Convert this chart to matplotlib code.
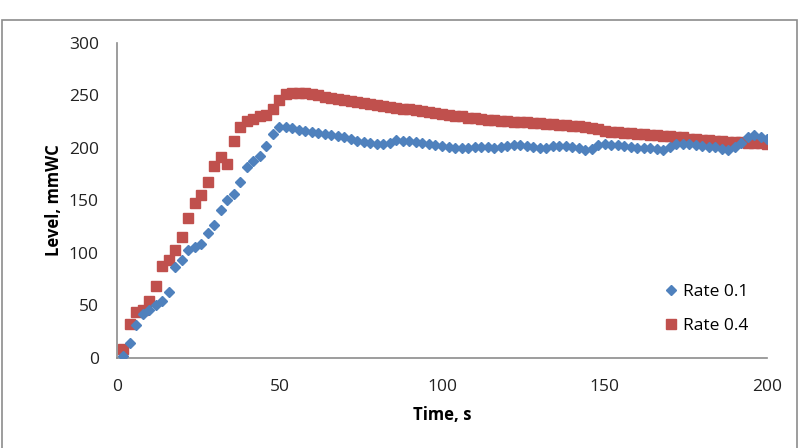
import numpy as np
import matplotlib
matplotlib.use('Agg')
import matplotlib.pyplot as plt
from matplotlib.patches import Rectangle

# time, s (one sample every 2 s)
time_s = np.arange(2, 201, 2)

rate_01 = [2, 14, 31, 42, 46, 50, 54, 63, 87, 93,
           103, 106, 109, 119, 127, 141, 150, 156, 168, 182,
           188, 192, 202, 213, 220, 220, 219, 217, 216, 215,
           214, 213, 212, 211, 210, 209, 207, 206, 205, 204,
           204, 205, 208, 207, 207, 206, 205, 204, 203, 202,
           201, 200, 200, 200, 201, 201, 201, 200, 201, 202,
           203, 203, 202, 201, 200, 200, 202, 202, 202, 201,
           200, 198, 199, 203, 204, 203, 203, 202, 201, 200,
           200, 200, 199, 198, 201, 204, 204, 204, 203, 202,
           201, 201, 199, 198, 201, 205, 210, 212, 210, 209]

rate_04 = [9, 32, 44, 46, 54, 69, 88, 93, 103, 115,
           133, 148, 155, 168, 183, 191, 185, 207, 220, 226,
           228, 230, 231, 237, 246, 251, 252, 252, 252, 251,
           250, 249, 248, 247, 246, 245, 244, 243, 242, 241,
           240, 239, 238, 237, 237, 236, 235, 234, 233, 232,
           231, 230, 230, 229, 229, 228, 227, 227, 226, 226,
           225, 225, 225, 224, 224, 223, 223, 222, 222, 221,
           221, 220, 219, 218, 216, 215, 215, 214, 214, 213,
           213, 212, 212, 211, 211, 210, 210, 209, 209, 208,
           208, 207, 207, 206, 206, 206, 205, 205, 205, 204]

x_ticks = [0, 50, 100, 150, 200]
y_ticks = [0, 50, 100, 150, 200, 250, 300]

plt.rcParams['font.family'] = ['Open Sans', 'DejaVu Sans']

fig = plt.figure(figsize=(8, 4.48), dpi=100)
ax = fig.add_axes([0.146, 0.201, 0.813, 0.703])

# outer chart border
fig.patches.append(Rectangle((0.003, -0.02), 0.993, 0.975, transform=fig.transFigure,
                             fill=False, edgecolor='#8c8c8c', linewidth=1.2))

ax.plot(time_s, rate_01, linestyle='none', marker='D', markersize=5,
        color='#4F81BD', label='Rate 0.1', zorder=3)
ax.plot(time_s, rate_04, linestyle='none', marker='s', markersize=6.8,
        color='#C0504D', label='Rate 0.4', zorder=2)

ax.set_xlim(0, 200)
ax.set_ylim(0, 300)
ax.set_xticks(x_ticks)
ax.set_yticks(y_ticks)

for side in ['top', 'right']:
    ax.spines[side].set_visible(False)
for side in ['left', 'bottom']:
    ax.spines[side].set_color('#8c8c8c')
    ax.spines[side].set_linewidth(1.2)
ax.tick_params(axis='y', length=0, labelsize=12.5, colors='#222222', pad=13)
ax.tick_params(axis='x', length=0, labelsize=12.5, colors='#222222', pad=15)

ax.set_xlabel('Time, s', fontsize=12, fontweight='bold', labelpad=8)
ax.set_ylabel('Level, mmWC', fontsize=12, fontweight='bold', labelpad=4)

leg = ax.legend(loc='lower right', bbox_to_anchor=(0.995, 0.027), frameon=False,
                fontsize=12.5, handletextpad=0.2, labelspacing=1.0, handlelength=1.0)

fig.savefig('out.png', dpi=100, facecolor='white')
plt.close()
